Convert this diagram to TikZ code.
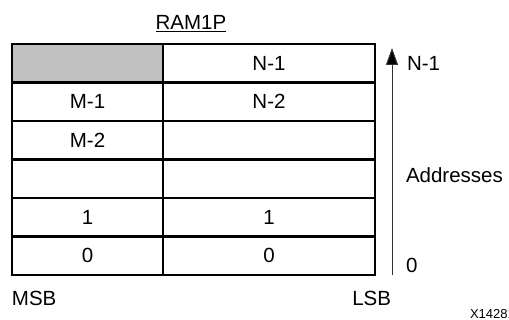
\documentclass[tikz,border=0pt]{standalone}
\usepackage{fontspec}
\setmainfont{Liberation Sans}
\usepackage{tikz}
\usetikzlibrary{positioning,arrows.meta}

\definecolor{unused}{HTML}{C0C0C0}

\tikzset{
    cell/.style={draw, line width=2.2pt, outer sep=0pt, inner sep=0pt,
        minimum height=38.5pt},
    msbcell/.style={cell, minimum width=151pt},
    lsbcell/.style={cell, minimum width=212pt},
    lbl/.style={inner sep=0pt, outer sep=0pt}
}

\begin{document}
\begin{tikzpicture}[x=1pt, y=-1pt, font=\fontsize{20.5}{24}\selectfont]
    \useasboundingbox (0,0) rectangle (509,320);

    % title
    \node [lbl, anchor=base] (t) at (191,30) {\underline{RAM1P}};

    % memory cells, top row first
    \node [msbcell, fill=unused, anchor=north west] (a5) at (12,44) {};
    \node [lsbcell, right=0pt of a5] (b5) {N-1};
    \node [msbcell, below=0pt of a5] (a4) {M-1};
    \node [lsbcell, right=0pt of a4] (b4) {N-2};
    \node [msbcell, below=0pt of a4] (a3) {M-2};
    \node [lsbcell, right=0pt of a3] (b3) {};
    \node [msbcell, below=0pt of a3] (a2) {};
    \node [lsbcell, right=0pt of a2] (b2) {};
    \node [msbcell, below=0pt of a2] (a1) {1};
    \node [lsbcell, right=0pt of a1] (b1) {1};
    \node [msbcell, below=0pt of a1] (a0) {0};
    \node [lsbcell, right=0pt of a0] (b0) {0};

    % address axis
    \coordinate (lo) at (392,275);
    \coordinate (hi) at (392,48);
    \draw [line width=1pt, draw=black!80, -{Triangle[width=12pt, length=17pt, fill=black]}] (lo) -- (hi);
    \node [lbl, anchor=base west] (top) at (407,70.5) {N-1};
    \node [lbl, anchor=base west] (mid) at (406,183) {Addresses};
    \node [lbl, anchor=base west] (bot) at (406,273) {0};

    % bit order
    \node [lbl, anchor=base west] (msb) at (12,306) {MSB};
    \node [lbl, anchor=base east] (lsb) at (391,306) {LSB};

    \node [lbl, anchor=base west, font=\fontsize{13}{15}\selectfont] (fig) at (470,319) {X14281};
\end{tikzpicture}
\end{document}
